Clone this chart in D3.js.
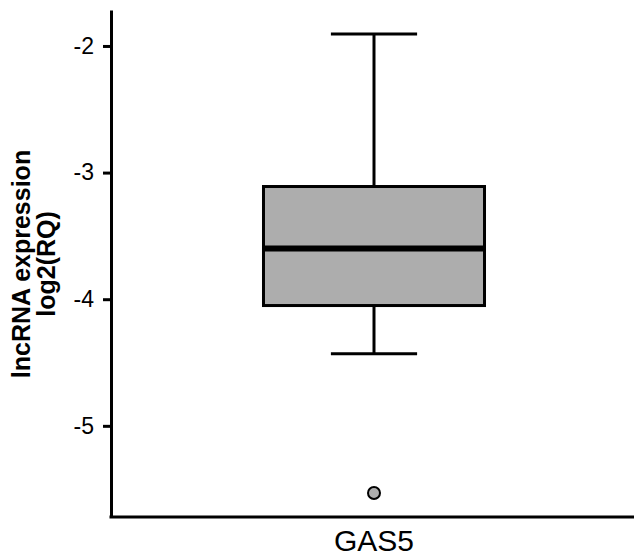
<!DOCTYPE html>
<html>
<head>
<meta charset="utf-8">
<script src="https://cdn.jsdelivr.net/npm/d3@7"></script>
<style>
  body { margin: 0; background: #fff; }
  svg { font-family: Arial, "Liberation Sans", sans-serif; }
</style>
</head>
<body>
<div id="chart"></div>
<script>
// box plot data
var categories = ["GAS5"];
var q1 = [-4.05];
var median = [-3.60];
var q3 = [-3.11];
var whiskerLow = [-4.43];
var whiskerHigh = [-1.905];
var outliers = [[-5.53]];
var yTicks = [-2, -3, -4, -5];

var svgWidth = 634;
var svgHeight = 560;

var svg = d3.select("#chart")
  .append("svg")
  .attr("width", svgWidth)
  .attr("height", svgHeight);

var xLeft = 111, xRight = 637;
var yTop = 10, yBottom = 517;

var xScale = d3.scaleBand()
  .domain(categories)
  .range([xLeft, xRight])
  .paddingInner(0)
  .paddingOuter(0.69);

var yScale = d3.scaleLinear()
  .domain([-5.72, -1.716])
  .range([yBottom, yTop]);

// axes
var leftAxis = d3.axisLeft(yScale)
  .tickValues(yTicks)
  .tickFormat(d => String(d))
  .tickSize(8)
  .tickPadding(9)
  .tickSizeOuter(0);

var yAxisG = svg.append("g")
  .attr("transform", `translate(${xLeft},0)`)
  .call(leftAxis);
yAxisG.select(".domain").attr("stroke", "#000").attr("stroke-width", 3);
yAxisG.selectAll(".tick line").attr("stroke", "#000").attr("stroke-width", 3);
yAxisG.selectAll(".tick text")
  .attr("font-size", 23)
  .attr("fill", "#000")
  .style("font-family", "Arial, 'Liberation Sans', sans-serif");

var bottomAxis = d3.axisBottom(xScale)
  .tickSize(0)
  .tickPadding(13)
  .tickSizeOuter(0);

var xAxisG = svg.append("g")
  .attr("transform", `translate(0,${yBottom})`)
  .call(bottomAxis);
xAxisG.select(".domain").attr("stroke", "#000").attr("stroke-width", 3)
  .attr("d", `M${xLeft - 1.5},0H${svgWidth}`);
xAxisG.selectAll(".tick text")
  .attr("font-size", 30)
  .attr("fill", "#000")
  .style("font-family", "Arial, 'Liberation Sans', sans-serif");

// boxes
var boxes = categories.map(function(c, i) {
  return { cat: c, q1: q1[i], med: median[i], q3: q3[i],
           lo: whiskerLow[i], hi: whiskerHigh[i], out: outliers[i] };
});

var g = svg.append("g");
var bw = xScale.bandwidth();
var capW = bw * 0.39;

boxes.forEach(function(b) {
  var x0 = xScale(b.cat);
  var cx = x0 + bw / 2;

  // whiskers
  g.append("line")
    .attr("x1", cx).attr("x2", cx)
    .attr("y1", yScale(b.hi)).attr("y2", yScale(b.q3))
    .attr("stroke", "#000").attr("stroke-width", 3);
  g.append("line")
    .attr("x1", cx).attr("x2", cx)
    .attr("y1", yScale(b.q1)).attr("y2", yScale(b.lo))
    .attr("stroke", "#000").attr("stroke-width", 3);
  [b.hi, b.lo].forEach(function(v) {
    g.append("line")
      .attr("x1", cx - capW / 2).attr("x2", cx + capW / 2)
      .attr("y1", yScale(v)).attr("y2", yScale(v))
      .attr("stroke", "#000").attr("stroke-width", 3);
  });

  // box
  g.append("rect")
    .attr("x", x0).attr("width", bw)
    .attr("y", yScale(b.q3))
    .attr("height", yScale(b.q1) - yScale(b.q3))
    .attr("fill", "#adadad")
    .attr("stroke", "#000").attr("stroke-width", 3);

  // median
  g.append("line")
    .attr("x1", x0).attr("x2", x0 + bw)
    .attr("y1", yScale(b.med)).attr("y2", yScale(b.med))
    .attr("stroke", "#000").attr("stroke-width", 6);

  // outliers
  g.selectAll(null)
    .data(b.out)
    .enter()
    .append("circle")
    .attr("cx", cx)
    .attr("cy", d => yScale(d))
    .attr("r", 6)
    .attr("fill", "#adadad")
    .attr("stroke", "#000")
    .attr("stroke-width", 2);
});

// y title
svg.append("text")
  .attr("transform", `translate(30, 264) rotate(-90)`)
  .attr("text-anchor", "middle")
  .attr("font-size", 25)
  .attr("font-weight", "bold")
  .selectAll("tspan")
  .data(["lncRNA expression", "log2(RQ)"])
  .enter()
  .append("tspan")
  .attr("x", 0)
  .attr("dy", (d, i) => i === 0 ? 0 : 25)
  .text(d => d);
</script>
</body>
</html>
